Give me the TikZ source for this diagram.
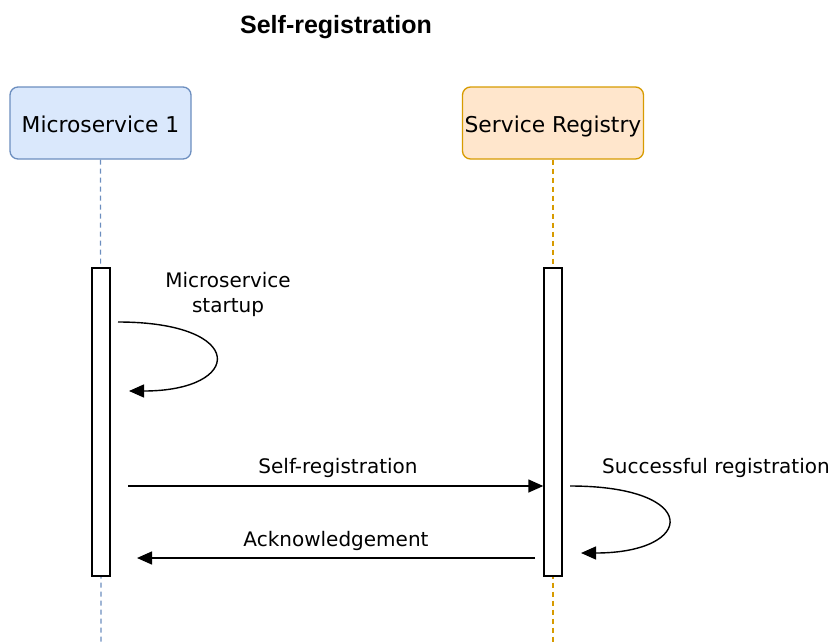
\documentclass[tikz,border=0pt]{standalone}
\usepackage{fontspec}
\setmainfont{DejaVu Sans}
\newfontfamily\titlefont{Liberation Sans}
\usetikzlibrary{arrows.meta}
\definecolor{blueF}{HTML}{DAE8FC}
\definecolor{blueD}{HTML}{6C8EBF}
\definecolor{orF}{HTML}{FFE6CC}
\definecolor{orD}{HTML}{D79B00}
\tikzset{
  actor/.style={draw, rounded corners=8pt, line width=1.3pt, minimum width=181pt, minimum height=72pt, inner sep=0pt, text height=21pt, text depth=2pt, font=\fontsize{21.8}{26}\selectfont},
  actbar/.style={draw, line width=1.4pt, fill=white, minimum width=18pt, minimum height=308pt, inner sep=0pt},
  lifeline/.style={line width=1.2pt, dash pattern=on 5pt off 4pt},
  msg/.style={line width=1.4pt, -{Triangle[length=15pt,width=13pt]}},
  lbl/.style={font=\fontsize{20}{25}\selectfont, align=center, inner sep=0pt}
}
\begin{document}
\begin{tikzpicture}[x=1pt,y=-1pt]
\useasboundingbox (0,0) rectangle (829,643);
\node[font=\titlefont\bfseries\fontsize{25}{30}\selectfont] (title) at (336,27) {Self-registration};
\node[actor, fill=blueF, draw=blueD] (ms) at (100.5,123) {Microservice 1};
\node[actor, fill=orF, draw=orD] (sr) at (553,123) {Service Registry};
\coordinate (msend) at (101,643);
\coordinate (srend) at (553,643);
\draw[lifeline, draw=blueD] (ms.south) -- (msend);
\draw[lifeline, draw=orD] (sr.south) -- (srend);
\node[actbar] (ab1) at (101,422) {};
\node[actbar] (ab2) at (553,422) {};
% self loop 1
\coordinate (l1s) at (118,322);
\coordinate (l1e) at (129,391);
\draw[msg] (l1s) .. controls (248,322) and (244,391) .. (l1e);
\node[lbl] (l1t) at (228,294) {Microservice\\startup};
% self-registration
\coordinate (m1s) at (128,486);
\draw[msg] (m1s) -- (ab2.west |- m1s);
\node[lbl] (m1t) at (338,468) {Self-registration};
% ack
\coordinate (m2s) at (535,558);
\coordinate (m2e) at (137,558);
\draw[msg] (m2s) -- (m2e);
\node[lbl] (m2t) at (336,541) {Acknowledgement};
% self loop 2
\coordinate (l2s) at (570,486);
\coordinate (l2e) at (581,553);
\draw[msg] (l2s) .. controls (702,486) and (696,553) .. (l2e);
\node[lbl] (l2t) at (716,468) {Successful registration};
\end{tikzpicture}
\end{document}
